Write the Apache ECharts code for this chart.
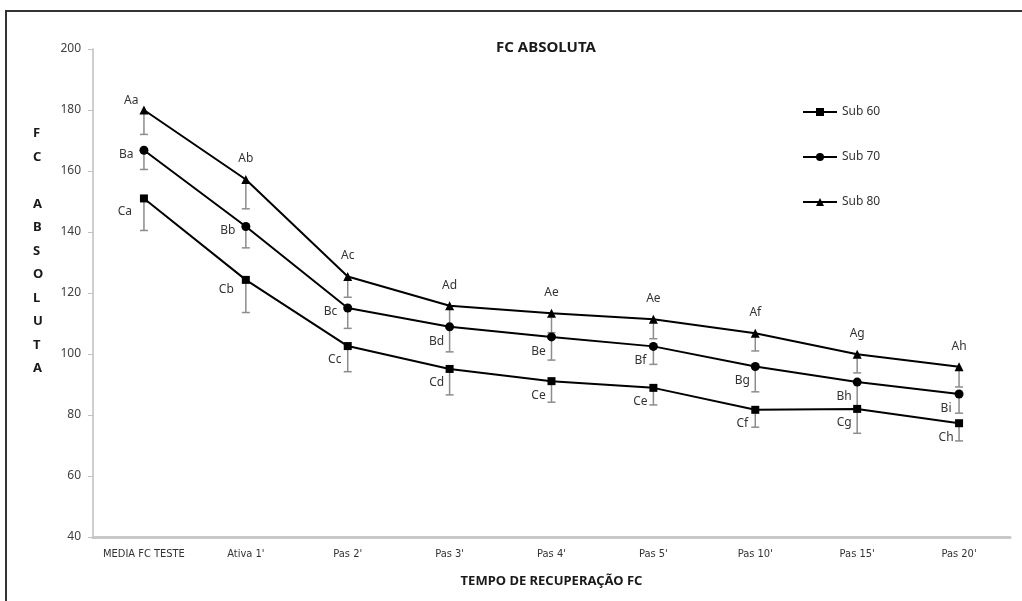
<!DOCTYPE html>
<html>
<head>
<meta charset="utf-8">
<title>FC ABSOLUTA</title>
<script src="https://cdn.jsdelivr.net/npm/echarts@6/dist/echarts.min.js"></script>
<style>
  html, body { margin: 0; padding: 0; background: #fff; }
  #fc { width: 1022px; height: 601px; }
</style>
</head>
<body>
<div id="fc"></div>
<script>
var categorias = ['MEDIA FC TESTE', 'Ativa 1\'', 'Pas 2\'', 'Pas 3\'', 'Pas 4\'', 'Pas 5\'', 'Pas 10\'', 'Pas 15\'', 'Pas 20\''];

// medias
var sub60 = [151, 124.3, 102.6, 95.1, 91.1, 88.9, 81.7, 82, 77.3];
var sub70 = [166.8, 141.8, 115.1, 108.9, 105.6, 102.5, 95.9, 90.8, 86.9];
var sub80 = [180, 157.2, 125.4, 115.8, 113.4, 111.4, 106.8, 99.9, 95.8];

// limite inferior das barras de erro
var sub60Min = [140.5, 113.6, 94.2, 86.6, 84.2, 83.3, 76, 74, 71.5];
var sub70Min = [160.5, 134.8, 108.4, 100.7, 98, 96.6, 87.6, 82.2, 80.6];
var sub80Min = [172, 147.6, 118.6, 109, 107, 105, 101, 93.8, 89.2];

// letras de significancia
var letras60 = ['Ca', 'Cb', 'Cc', 'Cd', 'Ce', 'Ce', 'Cf', 'Cg', 'Ch'];
var letras70 = ['Ba', 'Bb', 'Bc', 'Bd', 'Be', 'Bf', 'Bg', 'Bh', 'Bi'];
var letras80 = ['Aa', 'Ab', 'Ac', 'Ad', 'Ae', 'Ae', 'Af', 'Ag', 'Ah'];

var nomeEixoY = 'F\nC\n\nA\nB\nS\nO\nL\nU\nT\nA';

var dom = document.getElementById('fc');
var myChart = echarts.init(dom);

var fonteTxt = 'DejaVu Sans Condensed, Liberation Sans Narrow, Noto Sans, sans-serif';

// posicao das letras: 0 = sub60, 1 = sub70, 2 = sub80
function rotulo(serie, i) {
    if (serie == 2) {
        if (i == 0) return { position: 'left', offset: [4, -9] };
        return { position: 'top', offset: [0, -5] };
    }
    if (serie == 1) {
        if (i < 3) return { position: 'left', offset: [-1, 4] };
        return { position: 'bottom', offset: [-13, -1] };
    }
    if (i == 0) return { position: 'left', offset: [-3, 13] };
    if (i == 1) return { position: 'left', offset: [-3, 10] };
    return { position: 'bottom', offset: [-13, -1] };
}

function montaPontos(valores, letras, serie) {
    var out = [];
    for (var i = 0; i < valores.length; i++) {
        var r = rotulo(serie, i);
        out.push({
            value: valores[i],
            label: {
                show: true,
                formatter: letras[i],
                position: r.position,
                offset: r.offset
            }
        });
    }
    return out;
}

function montaErro(valores, minimos) {
    var out = [];
    for (var i = 0; i < valores.length; i++) {
        out.push([i, valores[i], minimos[i]]);
    }
    return out;
}

function desenhaErro(params, api) {
    var topo = api.coord([api.value(0), api.value(1)]);
    var base = api.coord([api.value(0), api.value(2)]);
    var cap = 4;
    var estilo = { stroke: '#8c8c8c', lineWidth: 1.5 };
    return {
        type: 'group',
        children: [
            { type: 'line', shape: { x1: topo[0], y1: topo[1], x2: base[0], y2: base[1] }, style: estilo },
            { type: 'line', shape: { x1: base[0] - cap, y1: base[1], x2: base[0] + cap, y2: base[1] }, style: estilo }
        ]
    };
}

var labelStyle = { color: '#333', fontSize: 12, fontFamily: 'Noto Sans, sans-serif' };

function serieLinha(nome, valores, letras, simbolo, tam, idx) {
    return {
        name: nome,
        type: 'line',
        data: montaPontos(valores, letras, idx),
        symbol: simbolo,
        symbolSize: tam,
        z: 5,
        itemStyle: { color: '#000' },
        lineStyle: { color: '#000', width: 2 },
        label: labelStyle,
        emphasis: { disabled: true },
        animation: false
    };
}

function serieErro(valores, minimos) {
    return {
        type: 'custom',
        renderItem: desenhaErro,
        data: montaErro(valores, minimos),
        z: 3,
        silent: true,
        animation: false
    };
}

var option = {
    backgroundColor: '#fff',
    animation: false,
    title: {
        text: 'FC ABSOLUTA',
        left: 541,
        textAlign: 'center',
        top: 35,
        textStyle: { fontSize: 15, fontWeight: 'bold', color: '#1a1a1a', fontFamily: 'Noto Sans, sans-serif' }
    },
    legend: {
        orient: 'vertical',
        left: 797,
        top: 101,
        itemGap: 33,
        itemWidth: 34,
        itemHeight: 10,
        data: ['Sub 60', 'Sub 70', 'Sub 80'],
        textStyle: { fontSize: 12, color: '#333', fontFamily: 'Noto Sans, sans-serif' }
    },
    graphic: [
        {
            type: 'polyline',
            shape: { points: [[6, 601], [6, 11], [1022, 11]] },
            style: { stroke: '#333', lineWidth: 2, fill: null },
            silent: true
        },
        {
            type: 'text',
            left: 33,
            top: 122,
            silent: true,
            style: {
                text: nomeEixoY,
                fontSize: 13,
                fontWeight: 'bold',
                lineHeight: 23.5,
                align: 'center',
                fill: '#1a1a1a',
                fontFamily: 'Noto Sans, sans-serif'
            }
        }
    ],
    grid: { left: 93, right: 12, top: 49, bottom: 64 },
    xAxis: {
        type: 'category',
        data: categorias,
        boundaryGap: true,
        name: 'TEMPO DE RECUPERAÇÃO FC',
        nameLocation: 'middle',
        nameGap: 38,
        nameTextStyle: { fontSize: 13, fontWeight: 'bold', color: '#1a1a1a', fontFamily: 'Noto Sans, sans-serif' },
        axisLine: { lineStyle: { color: '#c8c8c8', width: 3 } },
        axisTick: { alignWithLabel: true, length: 5, lineStyle: { color: '#bfbfbf' } },
        axisLabel: { interval: 0, fontSize: 11, color: '#333', margin: 12, fontFamily: fonteTxt }
    },
    yAxis: {
        type: 'value',
        min: 40,
        max: 200,
        interval: 20,
        axisLine: { show: true, lineStyle: { color: '#bfbfbf', width: 1.5 } },
        axisTick: { show: true, length: 5, lineStyle: { color: '#bfbfbf' } },
        splitLine: { show: false },
        axisLabel: { fontSize: 12, color: '#404040', margin: 12, fontFamily: 'Noto Sans, sans-serif' }
    },
    series: [
        serieErro(sub60, sub60Min),
        serieErro(sub70, sub70Min),
        serieErro(sub80, sub80Min),
        serieLinha('Sub 60', sub60, letras60, 'rect', 8, 0),
        serieLinha('Sub 70', sub70, letras70, 'circle', 9, 1),
        serieLinha('Sub 80', sub80, letras80, 'triangle', 9, 2)
    ]
};

if (option && typeof option === 'object') {
    myChart.setOption(option, true);
}
window.onresize = function () {
    myChart.resize();
};
</script>
</body>
</html>
